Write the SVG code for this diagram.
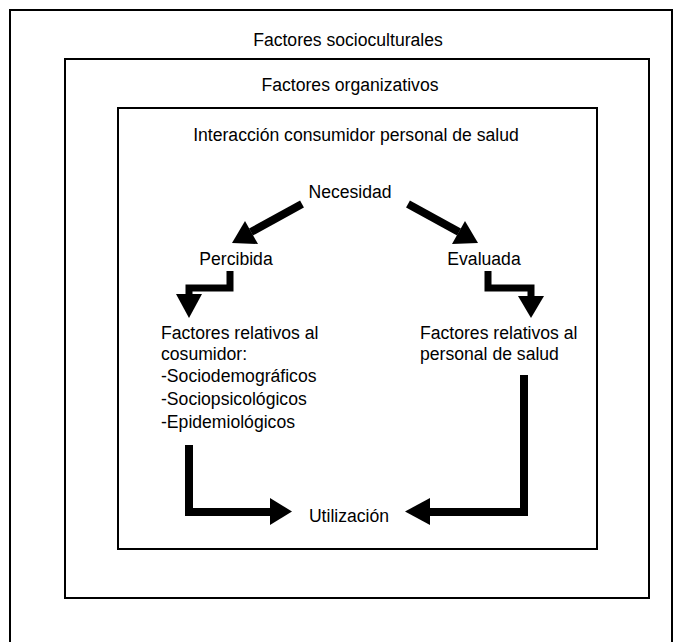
<svg xmlns="http://www.w3.org/2000/svg" width="683" height="642" viewBox="0 0 683 642">
<style>
.box{fill:none;stroke:#000;stroke-width:2}
.t{font-family:"Liberation Sans",Arial,Helvetica,sans-serif;font-size:17.6px;fill:#000}
.c{text-anchor:middle}
.sh{fill:none;stroke:#000;stroke-width:8;stroke-linejoin:miter;stroke-linecap:butt}
.hd{fill:#000}
</style>
<rect width="683" height="642" fill="#fff"/>
<g id="socioculturales">
<rect class="box" x="10" y="10" width="662" height="700"/>
<text class="t c" x="348" y="46">Factores socioculturales</text>
</g>
<g id="organizativos">
<rect class="box" x="65" y="59" width="584" height="539"/>
<text class="t c" x="350" y="91">Factores organizativos</text>
</g>
<g id="interaccion">
<rect class="box" x="118" y="108" width="479" height="441"/>
<text class="t c" x="356" y="141">Interacción consumidor personal de salud</text>
</g>
<g id="necesidad"><text class="t c" x="350" y="198">Necesidad</text></g>
<g id="percibida"><text class="t c" x="236" y="265">Percibida</text></g>
<g id="evaluada"><text class="t c" x="484" y="265">Evaluada</text></g>
<g id="consumidor">
<text class="t" x="161" y="339">Factores relativos al</text>
<text class="t" x="161" y="360">cosumidor:</text>
<text class="t" x="161" y="382">-Sociodemográficos</text>
<text class="t" x="161" y="405">-Sociopsicológicos</text>
<text class="t" x="161" y="428">-Epidemiológicos</text>
</g>
<g id="personal">
<text class="t" x="420" y="339">Factores relativos al</text>
<text class="t" x="420" y="360">personal de salud</text>
</g>
<g id="utilizacion"><text class="t c" x="349" y="522">Utilización</text></g>
<g id="connectors">
<line class="sh" x1="302" y1="204" x2="251" y2="232"/>
<polygon class="hd" points="232,243 245,221 258,244"/>
<line class="sh" x1="408" y1="204" x2="459" y2="232"/>
<polygon class="hd" points="478,243 465,221 452,244"/>
<path class="sh" style="stroke-width:7" d="M230,271 V288 H189 V295"/>
<polygon class="hd" points="176,294 202,294 189,318"/>
<path class="sh" style="stroke-width:7" d="M488,271 V288 H531 V297"/>
<polygon class="hd" points="518,296 544,296 531,318"/>
<path class="sh" d="M189,445 V512 H271"/>
<polygon class="hd" points="270,498 270,525 292,511.5"/>
<path class="sh" d="M524,375 V512 H429"/>
<polygon class="hd" points="430,498 430,525 405,511.5"/>
</g>
</svg>
